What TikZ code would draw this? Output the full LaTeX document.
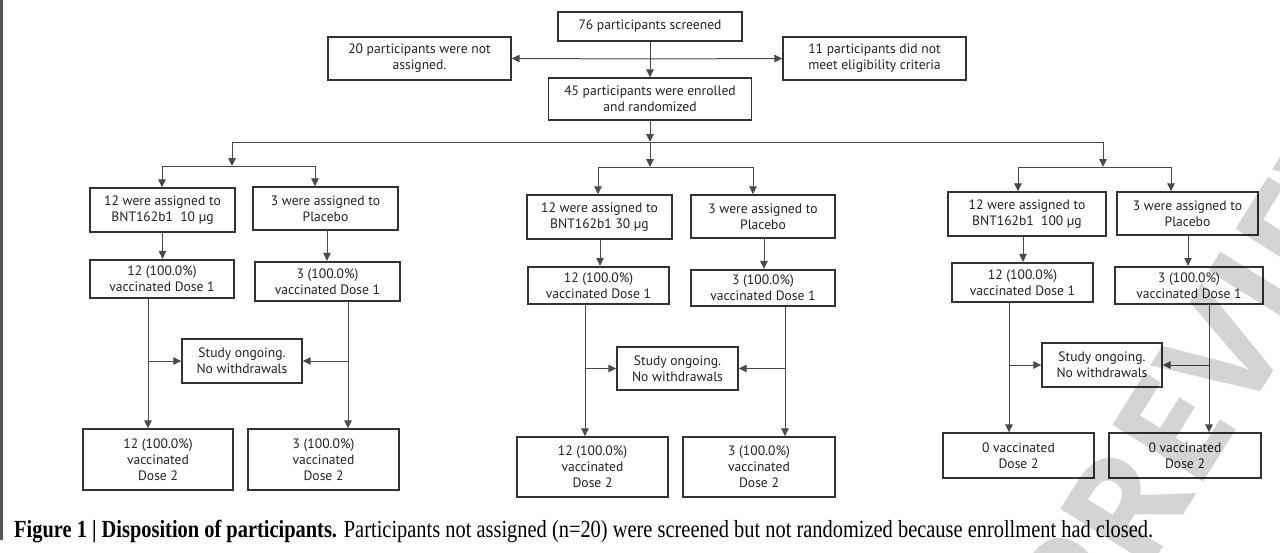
\documentclass[tikz,border=0pt]{standalone}
\usepackage{fontspec}
\setmainfont{PT Sans}
\newfontfamily\capfont[FakeStretch=0.83]{Liberation Serif}
\newfontfamily\wmfont{Open Sans}
\usetikzlibrary{arrows.meta}
\definecolor{boxc}{HTML}{333333}
\definecolor{txtc}{HTML}{222222}
\definecolor{linec}{HTML}{4A4A4A}
\definecolor{edgec}{HTML}{555555}
\begin{document}
\begin{tikzpicture}[x=1pt,y=-1pt,
  bx/.style={draw=boxc, line width=1.4pt, align=center, inner sep=0pt, text=txtc,
             font=\fontsize{13.6}{16}\selectfont},
  bxb/.style={bx, line width=2.3pt},
  conn/.style={draw=linec, line width=1pt},
  arr/.style={conn, -{Triangle[length=8pt,width=7.5pt]}},
]
\useasboundingbox (0,0) rectangle (1280,552);
\fill[white] (0,0) rectangle (1280,552);
\fill[edgec] (0,0) rectangle (2.5,540);

% ---------- top ----------
\node[bx, minimum width=184pt, minimum height=29pt] (scr) at (650,26.5) {76 participants screened};
\node[bx, minimum width=183pt, minimum height=43pt] (na) at (419.5,58.5) {20 participants were not\\assigned.};
\node[bx, minimum width=183pt, minimum height=43pt] (ne) at (874.5,58.5) {11 participants did not\\meet eligibility criteria};
\node[bx, minimum width=203pt, minimum height=42pt] (enr) at (650,99) {45 participants were enrolled\\and randomized};

\coordinate (j0) at (650,59);
\draw[arr] (scr.south) -- (enr.north);
\draw[arr] (j0) -- (na.east);
\draw[arr] (j0) -- (ne.west);

% ---------- bus ----------
\coordinate (b0) at (650,142);
\coordinate (bL) at (232,142);
\coordinate (bR) at (1103,142);
\draw[arr] (enr.south) -- (b0);
\draw[conn] (bL) -- (bR);

% ---------- left group ----------
\node[bx, minimum width=145pt, minimum height=44pt] (L1) at (162.5,210) {12 were assigned to\\BNT162b1\ \ 10 µg};
\node[bx, minimum width=145pt, minimum height=43pt] (L2) at (325.5,208.5) {3 were assigned to\\Placebo};
\node[bxb, minimum width=144pt, minimum height=38pt] (L3) at (162,279) {12 (100.0\%)\\vaccinated Dose 1};
\node[bxb, minimum width=145pt, minimum height=39pt] (L4) at (327.5,281.5) {3 (100.0\%)\\vaccinated Dose 1};
\node[bx, minimum width=120pt, minimum height=44pt] (LS) at (242,361) {Study ongoing.\\No withdrawals};
\node[bx, minimum width=150pt, minimum height=61pt] (L5) at (158,459.5) {12 (100.0\%)\\vaccinated\\Dose 2};
\node[bx, minimum width=151pt, minimum height=61pt] (L6) at (323.5,459.5) {3 (100.0\%)\\vaccinated\\Dose 2};

\coordinate (sL) at (232,166);
\coordinate (sL1) at (162,166);
\coordinate (sL2) at (315,166);
\draw[arr] (bL) -- (sL);
\draw[conn] (sL1) -- (sL2);
\draw[arr] (sL1) -- (sL1 |- L1.north);
\draw[arr] (sL2) -- (sL2 |- L2.north);
\draw[arr] (L1.south) -- (L1.south |- L3.north);
\coordinate (l4t) at (327,0);
\draw[arr] (l4t |- L2.south) -- (l4t |- L4.north);
\coordinate (l3b) at (148,0);
\coordinate (l4b) at (348,0);
\draw[arr] (l3b |- L3.south) -- (l3b |- L5.north);
\draw[arr] (l4b |- L4.south) -- (l4b |- L6.north);
\draw[arr] (l3b |- LS.west) -- (LS.west);
\draw[arr] (l4b |- LS.east) -- (LS.east);

% ---------- middle group ----------
\node[bx, minimum width=145pt, minimum height=44pt] (M1) at (599.5,217) {12 were assigned to\\BNT162b1 30 µg};
\node[bx, minimum width=144pt, minimum height=43pt] (M2) at (763,216.5) {3 were assigned to\\Placebo};
\node[bxb, minimum width=141pt, minimum height=37pt] (M3) at (598.5,285.5) {12 (100.0\%)\\vaccinated Dose 1};
\node[bxb, minimum width=144pt, minimum height=36pt] (M4) at (763,288) {3 (100.0\%)\\vaccinated Dose 1};
\node[bx, minimum width=121pt, minimum height=43pt] (MS) at (677.5,368.5) {Study ongoing.\\No withdrawals};
\node[bx, minimum width=151pt, minimum height=60pt] (M5) at (592.5,467) {12 (100.0\%)\\vaccinated\\Dose 2};
\node[bx, minimum width=152pt, minimum height=60pt] (M6) at (759,467) {3 (100.0\%)\\vaccinated\\Dose 2};

\coordinate (sM) at (650,167);
\coordinate (sM1) at (598,167);
\coordinate (sM2) at (753,167);
\draw[arr] (b0) -- (sM);
\draw[conn] (sM1) -- (sM2);
\draw[arr] (sM1) -- (sM1 |- M1.north);
\draw[arr] (sM2) -- (sM2 |- M2.north);
\coordinate (m3t) at (600,0);
\coordinate (m4t) at (764,0);
\draw[arr] (m3t |- M1.south) -- (m3t |- M3.north);
\draw[arr] (m4t |- M2.south) -- (m4t |- M4.north);
\coordinate (m3b) at (585,0);
\coordinate (m4b) at (785,0);
\draw[arr] (m3b |- M3.south) -- (m3b |- M5.north);
\draw[arr] (m4b |- M4.south) -- (m4b |- M6.north);
\draw[arr] (m3b |- MS.west) -- (MS.west);
\draw[arr] (m4b |- MS.east) -- (MS.east);

% ---------- right group ----------
\node[bx, minimum width=158pt, minimum height=44pt] (R1) at (1027,214) {12 were assigned to\\BNT162b1\ \ 100 µg};
\node[bx, minimum width=141pt, minimum height=43pt] (R2) at (1187.5,213.5) {3 were assigned to\\Placebo};
\node[bxb, minimum width=141pt, minimum height=39pt] (R3) at (1022.5,282.5) {12 (100.0\%)\\vaccinated Dose 1};
\node[bxb, minimum width=148pt, minimum height=37pt] (R4) at (1189,285.5) {3 (100.0\%)\\vaccinated Dose 1};
\node[bx, minimum width=120pt, minimum height=44pt] (RS) at (1102,365) {Study ongoing.\\No withdrawals};
\node[bx, minimum width=151pt, minimum height=45pt] (R5) at (1018.5,455.5) {0 vaccinated\\Dose 2};
\node[bx, minimum width=152pt, minimum height=45pt] (R6) at (1185,455.5) {0 vaccinated\\Dose 2};

\coordinate (sR) at (1103,167);
\coordinate (sR1) at (1018,167);
\coordinate (sR2) at (1171,167);
\draw[arr] (bR) -- (sR);
\draw[conn] (sR1) -- (sR2);
\draw[arr] (sR1) -- (sR1 |- R1.north);
\draw[arr] (sR2) -- (sR2 |- R2.north);
\coordinate (r3t) at (1023,0);
\coordinate (r4t) at (1188,0);
\draw[arr] (r3t |- R1.south) -- (r3t |- R3.north);
\draw[arr] (r4t |- R2.south) -- (r4t |- R4.north);
\coordinate (r3b) at (1009,0);
\coordinate (r4b) at (1209,0);
\draw[arr] (r3b |- R3.south) -- (r3b |- R5.north);
\draw[arr] (r4b |- R4.south) -- (r4b |- R6.north);
\draw[arr] (r3b |- RS.west) -- (RS.west);
\draw[arr] (r4b |- RS.east) -- (RS.east);

% ---------- caption ----------
\node[anchor=base west, inner sep=0pt, text=black] (cap) at (14,537)
  {\capfont\fontsize{24.6}{24.6}\selectfont\textbf{Figure 1 | Disposition of participants.} Participants not assigned (n=20) were screened but not randomized because enrollment had closed.};

% ---------- watermark ----------
\begin{scope}
\clip (0,0) rectangle (1280,552);
\node[rotate=58, text=black, text opacity=0.17, inner sep=0pt,
      font=\wmfont\fontsize{150}{150}\selectfont\fontseries{sb}\selectfont] (wm) at (1222,352) {PREVIEW};
\end{scope}
\end{tikzpicture}
\end{document}
